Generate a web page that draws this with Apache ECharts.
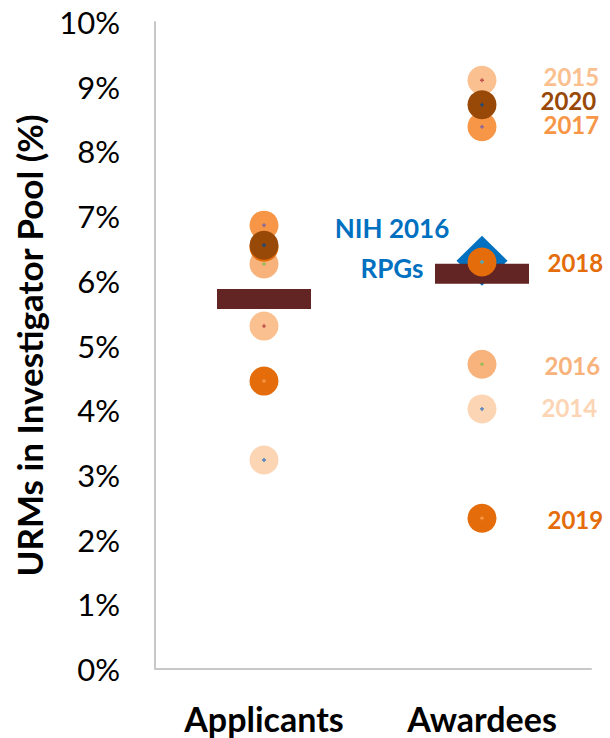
<!DOCTYPE html>
<html>
<head>
<meta charset="utf-8">
<script src="https://cdn.jsdelivr.net/npm/echarts@6/dist/echarts.min.js"></script>
<style>
html,body{margin:0;padding:0;background:#fff;}
#chart{width:610px;height:738px;}
</style>
</head>
<body>
<div id="chart"></div>
<script>
// ---- data ----
const categories = ['Applicants', 'Awardees'];
const years = ['2014', '2015', '2016', '2017', '2018', '2019', '2020'];
const applicants = [3.23, 5.30, 6.26, 6.86, 6.52, 4.45, 6.55];
const awardees   = [4.02, 9.10, 4.71, 8.38, 6.29, 2.33, 8.72];
const averages   = [5.72, 6.11];
const nihRPG     = 6.31;   // NIH 2016 RPGs, shown in the Awardees column
const nihLabel   = ['NIH 2016', 'RPGs'];
const yTickValues = [0,1,2,3,4,5,6,7,8,9,10];

// ---- styles ----
const circleColors = ['#FCD5B5', '#FAC090', '#F8B27C', '#F79646', '#E46C0A', '#E46C0A', '#984807'];
const dotColors    = ['#4F81BD', '#C0504D', '#9BBB59', '#8064A2', '#4BACC6', '#F79646', '#1F497D'];
const labelDistance = [45, 47, 48, 47, 51, 51, 44];
const labelOffsetY  = [-1, -4, 1, -2, 0, 1, -4];
const FONT = 'Lato, "Open Sans", sans-serif';

const series = [];
// NIH diamond (drawn first, under the bar)
series.push({
  type: 'scatter', symbol: 'diamond', symbolSize: [51, 50], z: 2,
  itemStyle: { color: '#0070C0', opacity: 1 },
  data: [{
    value: [1, nihRPG],
    label: {
      show: true, position: 'inside', offset: [-90, -13],
      formatter: nihLabel.join('\n'),
      color: '#0070C0', fontFamily: FONT, fontWeight: 'bold', fontSize: 26,
      lineHeight: 40, align: 'center', verticalAlign: 'middle'
    }
  }]
});
// averages bars
series.push({
  type: 'scatter', symbol: 'rect', symbolSize: [94, 20], z: 2,
  itemStyle: { color: '#632523', opacity: 1 },
  data: categories.map((c, i) => [i, averages[i]])
});
// yearly circles + centre dots
years.forEach((y, i) => {
  series.push({
    type: 'scatter', symbol: 'circle', symbolSize: 29, z: 2,
    itemStyle: { color: circleColors[i], opacity: 1 },
    data: [
      [0, applicants[i]],
      {
        value: [1, awardees[i]],
        label: {
          show: true, position: 'right', distance: labelDistance[i], offset: [0, labelOffsetY[i]],
          formatter: y, color: circleColors[i], fontFamily: FONT, fontWeight: 'bold', fontSize: 24,
          lineHeight: 20
        }
      }
    ]
  });
  series.push({
    type: 'scatter', symbol: 'path://M1,0H2V1H3V2H2V3H1V2H0V1H1Z', symbolSize: 4, z: 2,
    itemStyle: { color: dotColors[i], opacity: 1 },
    data: [[0, applicants[i]], [1, awardees[i]]]
  });
});

const chart = echarts.init(document.getElementById('chart'), null, { renderer: 'svg' });
chart.setOption({
  animation: false,
  backgroundColor: '#fff',
  grid: { left: 155, right: 19, top: 22, bottom: 69, containLabel: false, outerBoundsMode: 'none' },
  xAxis: {
    type: 'category', data: categories, boundaryGap: true,
    axisLine: { show: true, lineStyle: { color: '#C8C8C8', width: 2 } },
    axisTick: { show: false },
    axisLabel: { color: '#000', fontFamily: FONT, fontWeight: 'bold', fontSize: 34,
      lineHeight: 28, margin: 35 }
  },
  yAxis: {
    type: 'value', min: 0, max: 10, interval: 1,
    name: 'URMs in Investigator Pool (%)', nameLocation: 'middle', nameGap: 111,
    nameTextStyle: { color: '#000', fontFamily: FONT, fontWeight: 'bold', fontSize: 35, lineHeight: 30 },
    axisLine: { show: true, lineStyle: { color: '#C8C8C8', width: 2 } },
    axisTick: { show: false },
    splitLine: { show: false },
    axisLabel: { color: '#000', fontFamily: FONT, fontSize: 31, margin: 35,
      formatter: v => yTickValues.includes(v) ? v + '%' : '' }
  },
  series: series
});
</script>
</body>
</html>
